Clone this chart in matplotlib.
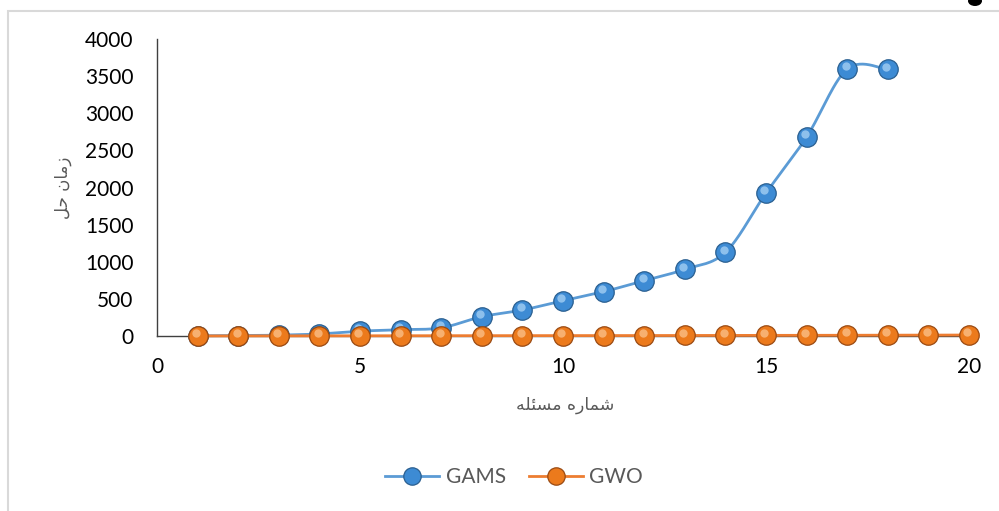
import numpy as np
import matplotlib
matplotlib.use("Agg")
import matplotlib.pyplot as plt
import matplotlib.transforms as mtransforms
from matplotlib.patches import Rectangle, Ellipse
from matplotlib.lines import Line2D

# ---- data ----
gams_x = list(range(1, 19))
gams_y = [3, 6, 12, 28, 65, 85, 110, 260, 350, 475, 597, 745, 898, 1127, 1925, 2680, 3596, 3590]
gwo_x = list(range(1, 21))
gwo_y = [1, 1, 2, 2, 3, 3, 4, 4, 5, 5, 6, 6, 7, 8, 8, 9, 10, 11, 12, 13]
x_ticks = [0, 5, 10, 15, 20]
y_ticks = [0, 500, 1000, 1500, 2000, 2500, 3000, 3500, 4000]
series_names = ["GAMS", "GWO"]
# Arabic labels written in presentation forms, visual (left-to-right) order
xlabel_text = "\uFEEA\uFEE0\uFE8C\uFEB4\uFEE3 \uFEE9\uFEAD\uFE8E\uFEE4\uFEB7"   # شماره مسئله
ylabel_text = "\uFEDE\uFEA3 \uFEE5\uFE8E\uFEE3\uFEAF"                         # زمان حل

plt.rcParams['font.family'] = ['Lato', 'DejaVu Sans']

W, H = 999, 511
fig = plt.figure(figsize=(W / 100, H / 100), dpi=100)
ax = fig.add_axes([157 / W, 1 - 336 / H, (969 - 157) / W, (336 - 39) / H])


def smooth(xs, ys, n=30):
    xs = np.asarray(xs, float)
    ys = np.asarray(ys, float)
    P = np.column_stack([xs, ys])
    out = []
    for i in range(len(P) - 1):
        p0 = P[i - 1] if i > 0 else P[i]
        p1 = P[i]
        p2 = P[i + 1]
        p3 = P[i + 2] if i + 2 < len(P) else P[i + 1]
        c1 = p1 + (p2 - p0) / 6.0
        c2 = p2 - (p3 - p1) / 6.0
        t = np.linspace(0, 1, n)[:, None]
        seg = ((1 - t) ** 3) * p1 + 3 * ((1 - t) ** 2) * t * c1 + 3 * (1 - t) * t ** 2 * c2 + t ** 3 * p2
        out.append(seg if i == 0 else seg[1:])
    S = np.vstack(out)
    return S[:, 0], S[:, 1]


styles = [
    dict(line="#5b9bd5", face="#3d8bd4", edge="#2a5f90", hi="#a9d2f5"),
    dict(line="#ed7d31", face="#ec7a1c", edge="#9a4a12", hi="#fbc38d"),
]

hi_trans = mtransforms.offset_copy(ax.transData, fig=fig, x=-1.2, y=2.0, units='points')

# GAMS below, GWO above
for xs, ys, st, z in [(gams_x, gams_y, styles[0], 3), (gwo_x, gwo_y, styles[1], 5)]:
    sx, sy = smooth(xs, ys)
    ax.plot(sx, sy, color=st["line"], lw=2.0, zorder=z, solid_capstyle='round', clip_on=False)
    ax.plot(xs, ys, linestyle='none', marker='o', markersize=14, markerfacecolor=st["face"],
            markeredgecolor=st["edge"], markeredgewidth=0.9, zorder=z + 0.1, clip_on=False)
    ax.plot(xs, ys, linestyle='none', marker='o', markersize=6, markerfacecolor=st["hi"],
            markeredgecolor='none', alpha=0.75, zorder=z + 0.2, clip_on=False, transform=hi_trans)

ax.set_xlim(0, 20)
ax.set_ylim(0, 4000)
ax.set_xticks(x_ticks)
ax.set_yticks(y_ticks)
ax.set_xticklabels([str(v) for v in x_ticks])
ax.set_yticklabels([str(v) for v in y_ticks])
ax.tick_params(axis='both', length=0, labelsize=15, colors='black')
ax.tick_params(axis='x', pad=15)
ax.tick_params(axis='y', pad=17)
for s in ['top', 'right']:
    ax.spines[s].set_visible(False)
ax.spines['left'].set_color('#404040')
ax.spines['left'].set_linewidth(1.0)
ax.spines['bottom'].set_color('#404040')
ax.spines['bottom'].set_linewidth(1.0)
ax.spines['bottom'].set_zorder(2)

fig.text(565 / W, 1 - 405 / H, xlabel_text, family=['DejaVu Sans'], fontsize=12.5,
         color='#595959', ha='center', va='center')
fig.text(63 / W, 1 - 188 / H, ylabel_text, family=['DejaVu Sans'], fontsize=12,
         color='#595959', ha='center', va='center', rotation=90)

handles = []
for name, st in zip(series_names, styles):
    handles.append(Line2D([0], [0], color=st["line"], lw=2.0, marker='o', markersize=12.5,
                          markerfacecolor=st["face"], markeredgecolor=st["edge"],
                          markeredgewidth=0.9))
leg = fig.legend(handles, series_names, loc='center', bbox_to_anchor=(514 / W, 1 - 477 / H),
                 ncol=2, frameon=False, fontsize=15, handlelength=2.6, columnspacing=1.1,
                 handletextpad=0.3, labelcolor='#595959')

# chart-area border
fig.patches.append(Rectangle((7.5 / W, -0.1), 1.2, 0.1 + (H - 10.5) / H, transform=fig.transFigure,
                             fill=False, edgecolor='#d9d9d9', lw=1.5, zorder=0))
fig.patches.append(Ellipse((975 / W, 1 - 1 / H), 14 / W, 10 / H, transform=fig.transFigure,
                           facecolor='black', edgecolor='none'))

fig.savefig("out.png", dpi=100)
